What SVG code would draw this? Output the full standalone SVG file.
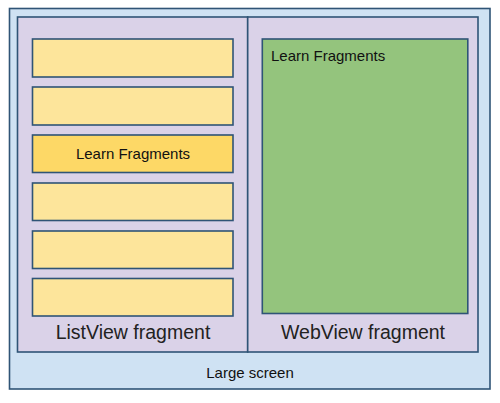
<svg xmlns="http://www.w3.org/2000/svg" width="500" height="403" viewBox="0 0 500 403">
<style>
.bx{stroke:#2f5476;stroke-width:1.6}
.row{fill:#fde59b}
.sel{fill:#fdd866}
.t{font-family:"Liberation Sans",Arial,sans-serif;fill:#111}
.big{font-family:"Liberation Sans",Arial,sans-serif;fill:#222;font-size:19.5px;text-anchor:middle}
</style>
<rect width="500" height="403" fill="#ffffff"/>
<g id="large-screen">
<rect class="bx" x="9.5" y="8.5" width="480.5" height="380.5" fill="#cfe2f3"/>
<text class="t" x="250" y="378" font-size="15" text-anchor="middle">Large screen</text>
</g>
<g id="listview-fragment">
<rect class="bx" x="17.5" y="17" width="230.2" height="335" fill="#dad2e8"/>
<text class="big" x="133" y="339">ListView fragment</text>
</g>
<g id="webview-fragment">
<rect class="bx" x="247.7" y="17" width="230.3" height="335" fill="#dad2e8"/>
<text class="big" x="363" y="339">WebView fragment</text>
</g>
<g id="row1"><rect class="bx row" x="32.5" y="39" width="200.5" height="38"/></g>
<g id="row2"><rect class="bx row" x="32.5" y="87" width="200.5" height="38"/></g>
<g id="row3"><rect class="bx sel" x="32.5" y="135" width="200.5" height="37.5"/>
<text class="t" x="133" y="159" font-size="15" text-anchor="middle">Learn Fragments</text></g>
<g id="row4"><rect class="bx row" x="32.5" y="183" width="200.5" height="37.5"/></g>
<g id="row5"><rect class="bx row" x="32.5" y="231" width="200.5" height="37.5"/></g>
<g id="row6"><rect class="bx row" x="32.5" y="278.5" width="200.5" height="37.5"/></g>
<g id="web-content">
<rect class="bx" x="262.3" y="39" width="205.5" height="274.5" fill="#94c47d"/>
<text class="t" x="271" y="60.5" font-size="15">Learn Fragments</text>
</g>
<g id="connectors"></g>
</svg>
